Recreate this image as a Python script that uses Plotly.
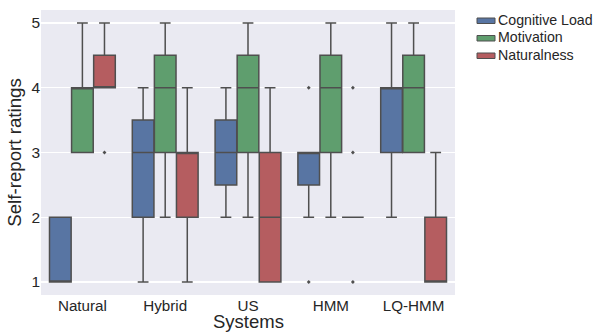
import plotly.graph_objects as go

systems = ["Natural", "Hybrid", "US", "HMM", "LQ-HMM"]
measures = ["Cognitive Load", "Motivation", "Naturalness"]

# per-measure box statistics, one value per system
cl_q1 = [1, 2, 2.5, 2.5, 3]
cl_med = [1, 3, 3, 3, 4]
cl_q3 = [2, 3.5, 3.5, 3, 4]
cl_lo = [1, 1, 2, 2, 2]
cl_hi = [2, 4, 4, 3, 5]
cl_out = [[], [], [], [4, 1], []]

mo_q1 = [3, 3, 3, 3, 3]
mo_med = [4, 4, 4, 4, 4]
mo_q3 = [4, 4.5, 4.5, 4.5, 4.5]
mo_lo = [3, 2, 2, 2, 3]
mo_hi = [5, 5, 5, 5, 5]
mo_out = [[], [], [], [], []]

na_q1 = [4, 2, 1, 2, 1]
na_med = [4, 3, 2, 2, 1]
na_q3 = [4.5, 3, 3, 2, 2]
na_lo = [4, 1, 1, 2, 1]
na_hi = [5, 4, 4, 2, 3]
na_out = [[3], [], [], [4, 3, 1], []]

y_ticks = [1, 2, 3, 4, 5]
x_title = "Systems"
y_title = "Self-report ratings"

stats = [
    (cl_q1, cl_med, cl_q3, cl_lo, cl_hi, cl_out),
    (mo_q1, mo_med, mo_q3, mo_lo, mo_hi, mo_out),
    (na_q1, na_med, na_q3, na_lo, na_hi, na_out),
]
colors = ["#5875A3", "#5F9E6E", "#B55D60"]
line_col = "#4f4f4f"
hue_w = 0.8 / 3
offsets = [-hue_w, 0.0, hue_w]

W, H = 601, 333
ml, mr, mt, mb = 41, 146, 10, 38

fig = go.Figure()
for k, (name, (q1, med, q3, lo, hi, out)) in enumerate(zip(measures, stats)):
    xs = [i + offsets[k] for i in range(len(systems))]
    fig.add_trace(go.Box(
        name=name, x=xs, q1=q1, median=med, q3=q3,
        lowerfence=lo, upperfence=hi,
        width=hue_w * 0.98, whiskerwidth=0.5,
        fillcolor=colors[k], line=dict(color=line_col, width=1.5),
        boxpoints=False, hoverinfo="skip", showlegend=False,
    ))
    ox, oy = [], []
    for i, vals in enumerate(out):
        for v in vals:
            ox.append(xs[i]); oy.append(v)
    if ox:
        fig.add_trace(go.Scatter(
            x=ox, y=oy, mode="markers", showlegend=False,
            marker=dict(color=line_col, size=3, symbol="diamond"),
            hoverinfo="skip",
        ))

# legend and x title drawn in paper coordinates (pixel-based layout)
pw = W - ml - mr
ph = H - mt - mb
def px_x(x):
    return (x - ml) / pw
def px_y(y):
    return 1 - (y - mt) / ph

shapes = []
annotations = []
for k, name in enumerate(measures):
    cy = 20 + k * 17.5
    shapes.append(dict(
        type="rect", xref="paper", yref="paper",
        x0=px_x(477), x1=px_x(495), y0=px_y(cy + 3.5), y1=px_y(cy - 2),
        fillcolor=colors[k], line=dict(color=line_col, width=1),
    ))
    annotations.append(dict(
        text=name, xref="paper", yref="paper", x=px_x(496), y=px_y(cy),
        xanchor="left", yanchor="middle", showarrow=False,
        font=dict(size=14.2, color="#262626"),
    ))
annotations.append(dict(
    text=x_title, xref="paper", yref="paper", x=0.5, y=px_y(333),
    xanchor="center", yanchor="bottom", showarrow=False, borderpad=0,
    font=dict(size=18.5, color="#262626"),
))

fig.update_layout(
    width=W, height=H,
    margin=dict(l=ml, r=mr, t=mt, b=mb, autoexpand=False),
    paper_bgcolor="white", plot_bgcolor="#EAEAF2",
    font=dict(family="Liberation Sans, Arial, sans-serif", color="#262626"),
    showlegend=False,
    boxmode="overlay",
    shapes=shapes, annotations=annotations,
)
fig.update_xaxes(
    range=[-0.5, len(systems) - 0.5], tickvals=list(range(len(systems))),
    ticktext=systems, showgrid=False, zeroline=False, showline=False,
    tickfont=dict(size=15.2), ticks="", automargin=False,
)
fig.update_yaxes(
    range=[0.8, 5.2], tickvals=y_ticks, showgrid=True, gridcolor="white",
    gridwidth=1.2, zeroline=False, showline=False, tickfont=dict(size=15.5),
    ticks="", automargin=False,
    title=dict(text=y_title, font=dict(size=18.7), standoff=4),
)
fig.write_html(
    "out.html",
    config={"displayModeBar": False, "staticPlot": True},
    post_script="document.body.style.margin='0';document.body.style.overflow='hidden';",
)
